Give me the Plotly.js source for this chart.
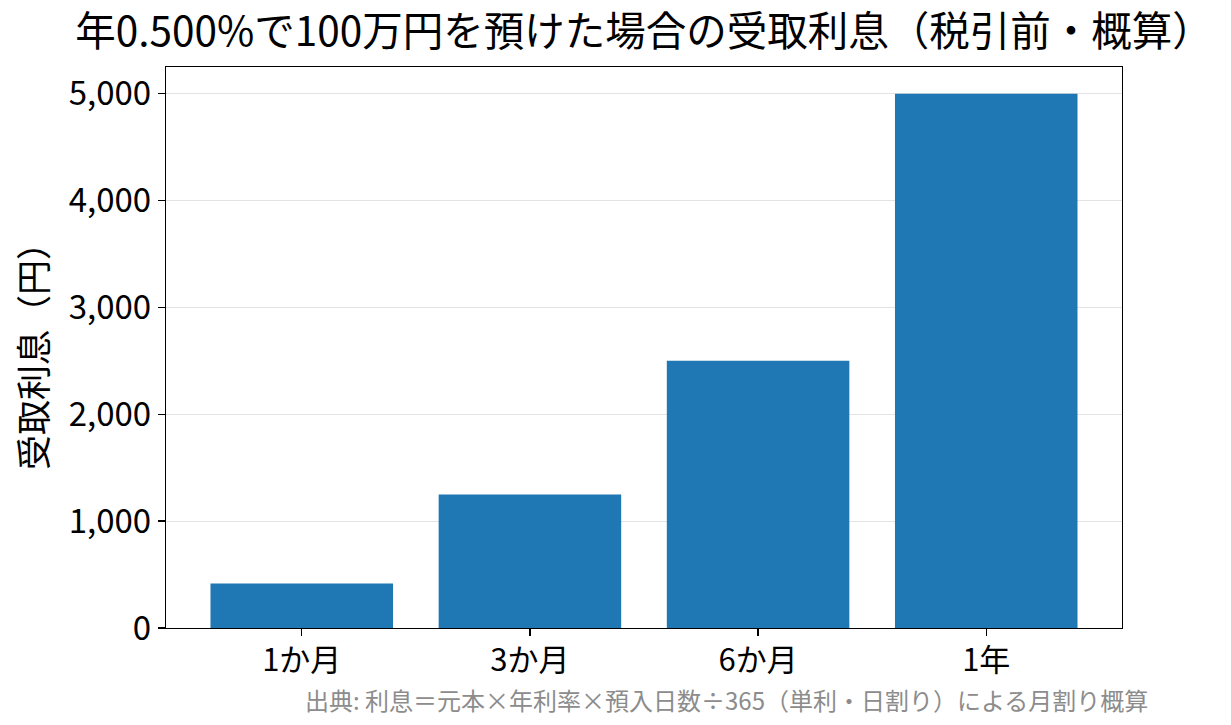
<!DOCTYPE html>
<html>
<head>
<meta charset="utf-8">
<script src="https://cdn.plot.ly/plotly-3.0.1.min.js"></script>
<style>
  html, body { margin: 0; padding: 0; background: #ffffff; }
  #chart { width: 1231px; height: 725px; }
</style>
</head>
<body>
<div id="chart"></div>
<script>
// Deposit periods and interest received (yen)
var periods = ['1か月', '3か月', '6か月', '1年'];
var interest = [417, 1250, 2500, 5000];
var yTicks = [0, 1000, 2000, 3000, 4000, 5000];

var titleText = '年0.500%で100万円を預けた場合の受取利息（税引前・概算）';
var yTitleText = '受取利息（円）';
var noteText = '出典: 利息＝元本×年利率×預入日数÷365（単利・日割り）による月割り概算';

var FONT = '"Noto Sans CJK JP", "Noto Sans", sans-serif';

var barTrace = {
  type: 'bar',
  x: [0, 1, 2, 3],
  y: interest,
  width: 0.8,
  marker: { color: '#1f77b4', line: { width: 0 } },
  hoverinfo: 'y',
};

var layout = {
  width: 1231,
  height: 725,
  margin: { l: 166, r: 109, t: 67, b: 97 },
  paper_bgcolor: '#ffffff',
  plot_bgcolor: '#ffffff',
  font: { family: FONT, color: '#000000', size: 30 },
  showlegend: false,
  title: {
    text: titleText,
    font: { family: FONT, size: 40.5, color: '#000000' },
    x: 0.5,
    xref: 'paper',
    xanchor: 'center',
    y: 0.956,
    yref: 'container',
    yanchor: 'middle',
  },
  xaxis: {
    range: [-0.595, 3.595],
    tickmode: 'array',
    tickvals: [0, 1, 2, 3],
    ticktext: periods,
    ticks: 'outside',
    ticklen: 7,
    tickwidth: 1.3,
    tickcolor: '#000000',
    tickfont: { size: 31 },
    ticklabelstandoff: -3,
    showgrid: false,
    zeroline: false,
    showline: true,
    linecolor: '#000000',
    linewidth: 1.3,
    mirror: true,
  },
  yaxis: {
    range: [0, 5250],
    tickmode: 'array',
    tickvals: yTicks,
    tickformat: ',',
    ticks: 'outside',
    ticklen: 7,
    tickwidth: 1.3,
    tickcolor: '#000000',
    tickfont: { size: 33 },
    showgrid: true,
    gridcolor: '#e3e3e3',
    gridwidth: 1.2,
    zeroline: false,
    showline: true,
    linecolor: '#000000',
    linewidth: 1.3,
    mirror: true,
    title: {
      text: yTitleText,
      font: { family: FONT, size: 35 },
      standoff: 10,
    },
  },
  annotations: [{
    text: noteText,
    xref: 'paper',
    yref: 'paper',
    x: 1.029,
    y: -0.128,
    xanchor: 'right',
    yanchor: 'middle',
    showarrow: false,
    font: { family: FONT, size: 24, color: '#8c8c8c' },
  }],
};

Plotly.newPlot('chart', [barTrace], layout, { displayModeBar: false, staticPlot: true });
</script>
</body>
</html>
